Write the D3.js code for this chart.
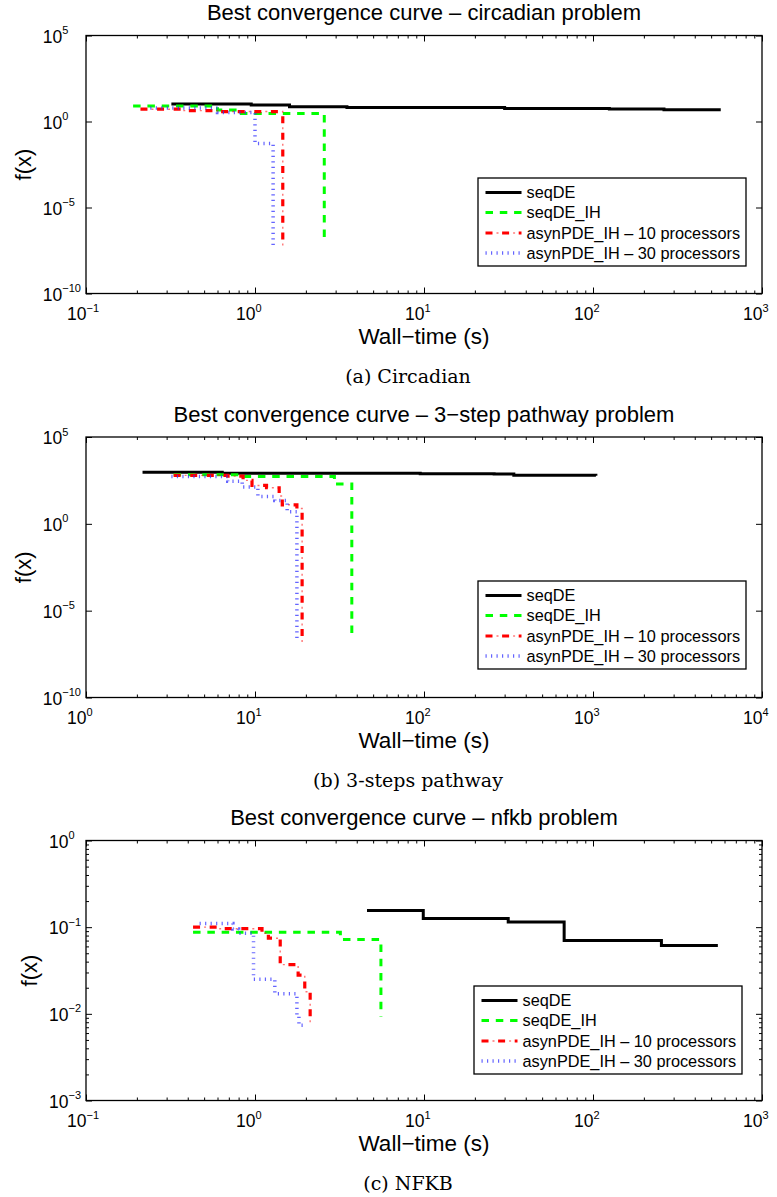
<!DOCTYPE html>
<html>
<head>
<meta charset="utf-8">
<script src="https://cdn.jsdelivr.net/npm/d3@7"></script>
<style>
  body { margin: 0; background: #fff; }
  svg { display: block; font-family: "Liberation Sans", Arial, sans-serif; }
</style>
</head>
<body>
<svg id="chart" width="777" height="1197"></svg>
<script>
// legend entries, same order for all three panels
const seriesNames = ["seqDE", "seqDE_IH", "asynPDE_IH \u2013 10 processors", "asynPDE_IH \u2013 30 processors"];

// step points [wall-time (s), best f(x)]
const circadianSeqDE = [[0.32, 10.3], [0.95, 9], [1.6, 7.2], [3.5, 6.5], [30, 5.7], [125, 5.3], [263, 4.8], [570, 4.8]];
const circadianSeqDEIH = [[0.19, 8], [0.6, 4.6], [0.78, 2.9], [2.57, 8e-8]];
const circadianAsyn10 = [[0.21, 5.2], [0.38, 4.3], [0.6, 3.8], [1.46, 6e-8]];
const circadianAsyn30 = [[0.24, 6], [0.6, 3.3], [1.0, 0.053], [1.28, 5e-8]];

const pathwaySeqDE = [[2.16, 920], [6.4, 830], [95, 770], [260, 730], [340, 620], [1040, 590]];
const pathwaySeqDEIH = [[3.3, 660], [8.4, 540], [29.5, 195], [37.4, 3.3e-7]];
const pathwayAsyn10 = [[3.3, 620], [6.9, 560], [8.5, 316], [9.6, 162], [11.7, 120], [13.9, 40], [14.5, 12.5], [17.7, 7.6], [19, 1.5e-7]];
const pathwayAsyn30 = [[3.2, 540], [6.9, 280], [8.4, 130], [10.4, 38], [13.1, 22], [15.5, 5], [17.7, 2.3e-7]];

const nfkbSeqDE = [[4.6, 0.156], [9.9, 0.126], [31.5, 0.115], [67.5, 0.070], [254, 0.0615], [548, 0.0615]];
const nfkbSeqDEIH = [[0.43, 0.0876], [3.2, 0.072], [5.56, 0.0093]];
const nfkbAsyn10 = [[0.43, 0.1], [0.62, 0.096], [1.1, 0.085], [1.2, 0.0746], [1.41, 0.037], [1.8, 0.028], [1.97, 0.018], [2.12, 0.0074]];
const nfkbAsyn30 = [[0.47, 0.11], [0.74, 0.095], [0.8, 0.085], [0.98, 0.025], [1.31, 0.017], [1.77, 0.0093], [1.82, 0.0074], [1.98, 0.0074]];

// axis ranges and tick values
const circadianX = [0.1, 1000], circadianY = [1e-10, 1e5];
const pathwayX = [1, 10000], pathwayY = [1e-10, 1e5];
const nfkbX = [0.1, 1000], nfkbY = [1e-3, 1];
const wideYTicks = [1e-10, 1e-5, 1, 1e5];
const nfkbYTicks = [1e-3, 1e-2, 1e-1, 1];

const titles = [
  "Best convergence curve \u2013 circadian problem",
  "Best convergence curve \u2013 3\u2212step pathway problem",
  "Best convergence curve \u2013 nfkb problem"
];
const captions = ["(a) Circadian", "(b) 3-steps pathway", "(c) NFKB"];
const xLabel = "Wall\u2212time (s)";
const yLabel = "f(x)";

// line look per series (MATLAB: k-, g--, r-., b:)
const seriesStyles = [
  { color: "#000000", width: 3, dash: null },
  { color: "#00ff00", width: 3, dash: "7.5,6.8" },
  { color: "#ff0000", width: 3.2, dash: "7,9.6", dot: true },
  { color: "#3030ff", width: 3.5, dash: "1.2,4.3", opacity: 0.75 }
];

const plotLeft = 86, plotRight = 762;

const panels = [
  { series: [circadianSeqDE, circadianSeqDEIH, circadianAsyn10, circadianAsyn30],
    xDomain: circadianX, yDomain: circadianY, yTicks: wideYTicks, yMinor: false,
    top: 35.5, bottom: 293.5, legend: [478, 178] },
  { series: [pathwaySeqDE, pathwaySeqDEIH, pathwayAsyn10, pathwayAsyn30],
    xDomain: pathwayX, yDomain: pathwayY, yTicks: wideYTicks, yMinor: false,
    top: 437, bottom: 697.5, legend: [478, 581] },
  { series: [nfkbSeqDE, nfkbSeqDEIH, nfkbAsyn10, nfkbAsyn30],
    xDomain: nfkbX, yDomain: nfkbY, yTicks: nfkbYTicks, yMinor: true,
    top: 840.5, bottom: 1100.5, legend: [474, 986] }
];

const svg = d3.select("#chart");

const expText = (v) => {
  const k = Math.round(Math.log10(v));
  return k < 0 ? "\u2212" + Math.abs(k) : String(k);
};

// 2..9 in every decade of the domain
const minorTicks = (domain) => {
  const out = [];
  const lo = Math.round(Math.log10(domain[0])), hi = Math.round(Math.log10(domain[1]));
  for (let e = lo; e < hi; e++) {
    for (let m = 2; m <= 9; m++) out.push(m * Math.pow(10, e));
  }
  return out;
};
const majorTicks = (domain) => {
  const out = [];
  const lo = Math.round(Math.log10(domain[0])), hi = Math.round(Math.log10(domain[1]));
  for (let e = lo; e <= hi; e++) out.push(Math.pow(10, e));
  return out;
};

const drawStyled = (g, d, i) => {
  const s = seriesStyles[i];
  g.append("path")
    .attr("d", d)
    .attr("fill", "none")
    .attr("stroke", s.color)
    .attr("stroke-width", s.width)
    .attr("stroke-dasharray", s.dash)
    .attr("stroke-opacity", s.opacity || 1);
  if (s.dot) {
    // the thin light dot of the dash-dot pattern
    g.append("path")
      .attr("d", d)
      .attr("fill", "none")
      .attr("stroke", s.color)
      .attr("stroke-width", 1.4)
      .attr("stroke-opacity", 0.55)
      .attr("stroke-dasharray", "2,14.6")
      .attr("stroke-dashoffset", 5.6);
  }
};

const addTicks = (g, axis, transform) => {
  g.append("g")
    .attr("transform", transform)
    .call(axis)
    .call(a => a.select(".domain").remove())
    .call(a => a.selectAll("line").attr("stroke-width", 1));
};

panels.forEach((p, pi) => {
  const g = svg.append("g");
  const x = d3.scaleLog().domain(p.xDomain).range([plotLeft, plotRight]);
  const y = d3.scaleLog().domain(p.yDomain).range([p.bottom, p.top]);
  const midX = (plotLeft + plotRight) / 2;

  // curves
  const line = d3.line()
    .x(d => x(d[0]))
    .y(d => y(d[1]))
    .curve(d3.curveStepAfter);
  p.series.forEach((s, i) => drawStyled(g, line(s), i));

  // box
  g.append("rect")
    .attr("x", plotLeft).attr("y", p.top)
    .attr("width", plotRight - plotLeft).attr("height", p.bottom - p.top)
    .attr("fill", "none").attr("stroke", "#000").attr("stroke-width", 1.3);

  // inward ticks on all four sides
  const xMaj = majorTicks(p.xDomain), xMin = minorTicks(p.xDomain);
  addTicks(g, d3.axisBottom(x).tickValues(xMaj).tickFormat("").tickSizeInner(-6).tickSizeOuter(0), `translate(0,${p.bottom})`);
  addTicks(g, d3.axisBottom(x).tickValues(xMin).tickFormat("").tickSizeInner(-3).tickSizeOuter(0), `translate(0,${p.bottom})`);
  addTicks(g, d3.axisTop(x).tickValues(xMaj).tickFormat("").tickSizeInner(-6).tickSizeOuter(0), `translate(0,${p.top})`);
  addTicks(g, d3.axisTop(x).tickValues(xMin).tickFormat("").tickSizeInner(-3).tickSizeOuter(0), `translate(0,${p.top})`);
  addTicks(g, d3.axisLeft(y).tickValues(p.yTicks).tickFormat("").tickSizeInner(-6).tickSizeOuter(0), `translate(${plotLeft},0)`);
  addTicks(g, d3.axisRight(y).tickValues(p.yTicks).tickFormat("").tickSizeInner(-6).tickSizeOuter(0), `translate(${plotRight},0)`);
  if (p.yMinor) {
    const yMin = minorTicks(p.yDomain);
    addTicks(g, d3.axisLeft(y).tickValues(yMin).tickFormat("").tickSizeInner(-3).tickSizeOuter(0), `translate(${plotLeft},0)`);
    addTicks(g, d3.axisRight(y).tickValues(yMin).tickFormat("").tickSizeInner(-3).tickSizeOuter(0), `translate(${plotRight},0)`);
  }

  // x tick labels: "10" ends at the tick, exponent follows
  xMaj.forEach(v => {
    g.append("text").attr("x", x(v) + 0.5).attr("y", p.bottom + 26)
      .attr("text-anchor", "end").attr("font-size", 17.5).text("10");
    g.append("text").attr("x", x(v) + 0.5).attr("y", p.bottom + 18)
      .attr("font-size", 11).text(expText(v));
  });

  // y tick labels: measure the widest exponent so the "10"s line up
  const sups = p.yTicks.map(v => g.append("text")
    .attr("y", y(v) - 1.5).attr("font-size", 11).text(expText(v)));
  const supW = d3.max(sups, s => s.node().getComputedTextLength());
  const x0 = plotLeft - 5 - supW;
  sups.forEach(s => s.attr("x", x0));
  p.yTicks.forEach(v => {
    g.append("text").attr("x", x0).attr("y", y(v) + 7)
      .attr("text-anchor", "end").attr("font-size", 17.5).text("10");
  });

  // axis labels, title, caption
  g.append("text")
    .attr("transform", `translate(${x0 - 31},${(p.top + p.bottom) / 2}) rotate(-90)`)
    .attr("text-anchor", "middle").attr("font-size", 22).text(yLabel);
  g.append("text").attr("x", midX).attr("y", p.bottom + 50.5)
    .attr("text-anchor", "middle").attr("font-size", 22.5).text(xLabel);
  g.append("text").attr("x", midX).attr("y", p.top - 15.3)
    .attr("text-anchor", "middle").attr("font-size", 22).text(titles[pi]);
  g.append("text").attr("x", 408).attr("y", p.bottom + 89)
    .attr("text-anchor", "middle").attr("font-family", "'DejaVu Serif', serif")
    .attr("font-size", 19).text(captions[pi]);

  // legend
  const [lx, ly] = p.legend;
  const lg = g.append("g").attr("transform", `translate(${lx},${ly})`);
  lg.append("rect").attr("width", 268).attr("height", 88)
    .attr("fill", "#fff").attr("stroke", "#000").attr("stroke-width", 1.3);
  const rowY = [14.5, 34.5, 55, 75];
  seriesNames.forEach((name, i) => {
    drawStyled(lg, `M7.5,${rowY[i]}H43.5`, i);
    lg.append("text").attr("x", 48.5).attr("y", rowY[i] + 5.8)
      .attr("font-size", 16.3).text(name);
  });
});
</script>
</body>
</html>
